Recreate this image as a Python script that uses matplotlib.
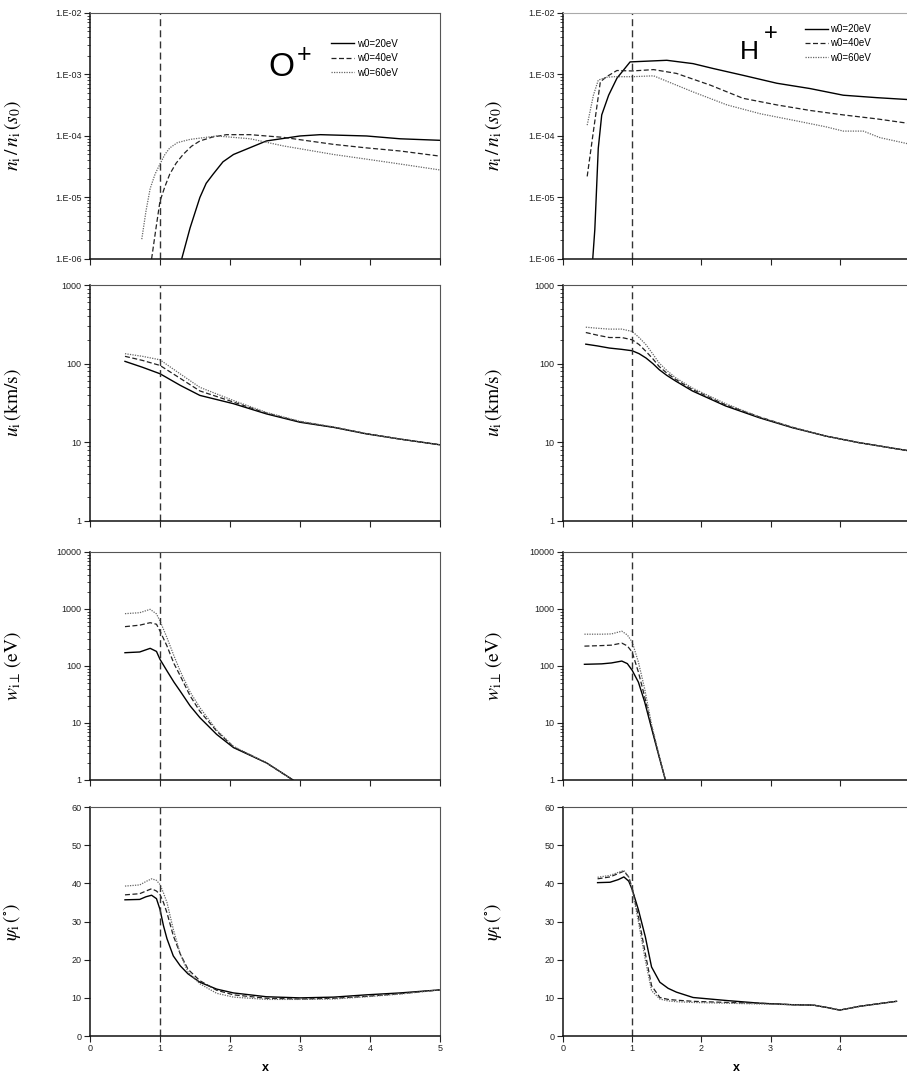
import matplotlib
matplotlib.use('Agg')
import matplotlib.pyplot as plt
from matplotlib.ticker import LogLocator, FuncFormatter, MultipleLocator, NullFormatter, FixedLocator
import numpy as np

plt.rcParams['font.family'] = ['Liberation Sans', 'DejaVu Sans']
plt.rcParams['mathtext.fontset'] = 'stix'

# ---- data ----
labels = ['w0=20eV', 'w0=40eV', 'w0=60eV']

# O+ density
o_n_x20 = [1.31, 1.43, 1.57, 1.66, 1.76, 1.9, 2.05, 2.52, 3.0, 3.29, 3.95, 4.43, 5.0]
o_n_y20 = [1e-6, 3.2e-6, 1e-5, 1.7e-5, 2.4e-5, 3.8e-5, 5e-5, 8.3e-5, 1.0e-4, 1.05e-4, 1.0e-4, 9e-5, 8.5e-5]
o_n_x40 = [0.88, 0.94, 1.0, 1.07, 1.14, 1.23, 1.33, 1.45, 1.57, 1.75, 1.95, 2.29, 2.76, 3.48, 3.95, 4.43, 5.0]
o_n_y40 = [1e-6, 3e-6, 8.7e-6, 1.5e-5, 2.4e-5, 3.6e-5, 5e-5, 6.8e-5, 8.3e-5, 9.6e-5, 1.05e-4, 1.05e-4,
           9.5e-5, 7.3e-5, 6.4e-5, 5.7e-5, 4.7e-5]
o_n_x60 = [0.74, 0.80, 0.86, 0.93, 1.0, 1.07, 1.14, 1.25, 1.43, 1.81, 2.29, 2.76, 3.48, 3.95, 4.43, 5.0]
o_n_y60 = [2.1e-6, 6e-6, 1.4e-5, 2.4e-5, 3.5e-5, 5e-5, 6.4e-5, 7.8e-5, 8.8e-5, 1.0e-4, 9e-5, 6.9e-5,
           5e-5, 4.2e-5, 3.5e-5, 2.8e-5]

# H+ density
h_n_x20 = [0.43, 0.46, 0.48, 0.51, 0.56, 0.66, 0.78, 0.97, 1.5, 1.88, 2.17, 2.6, 3.09, 3.57, 4.05, 4.53, 5.0]
h_n_y20 = [1e-6, 3e-6, 1e-5, 6.3e-5, 2.2e-4, 4.6e-4, 8.7e-4, 1.6e-3, 1.7e-3, 1.5e-3, 1.25e-3, 9.7e-4,
           7.2e-4, 5.9e-4, 4.6e-4, 4.2e-4, 3.9e-4]
h_n_x40 = [0.35, 0.44, 0.54, 0.63, 0.78, 1.0, 1.31, 1.64, 2.13, 2.6, 3.09, 3.57, 4.05, 4.53, 5.0]
h_n_y40 = [2.2e-5, 1.2e-4, 7.6e-4, 9.2e-4, 1.16e-3, 1.14e-3, 1.2e-3, 1.04e-3, 6.7e-4, 4.1e-4, 3.2e-4,
           2.6e-4, 2.2e-4, 1.9e-4, 1.6e-4]
h_n_x60 = [0.35, 0.44, 0.51, 0.63, 0.73, 1.0, 1.31, 1.64, 1.88, 2.37, 2.85, 3.33, 3.81, 4.05, 4.34, 4.58, 5.0]
h_n_y60 = [1.5e-4, 4.6e-4, 8.1e-4, 9e-4, 9.2e-4, 9.2e-4, 9.5e-4, 6.7e-4, 5.2e-4, 3.2e-4, 2.3e-4, 1.8e-4,
           1.4e-4, 1.2e-4, 1.2e-4, 9.4e-5, 7.4e-5]

# O+ velocity
o_u_x = [0.5, 0.75, 1.0, 1.29, 1.57, 2.05, 2.52, 3.0, 3.48, 3.95, 4.43, 5.0]
o_u20 = [107, 90, 74.5, 53, 39.5, 31, 23, 18, 15.5, 12.8, 11, 9.3]
o_u40 = [124, 110, 95, 65, 45, 32.5, 23.5, 18.3, 15.6, 12.9, 11.0, 9.3]
o_u60 = [134, 124, 112, 74, 50, 34, 24, 18.5, 15.7, 12.9, 11.0, 9.3]

# H+ velocity
h_u_x = [0.33, 0.5, 0.67, 0.85, 1.0, 1.1, 1.2, 1.3, 1.39, 1.5, 1.63, 1.87, 2.35, 2.84, 3.32, 3.8, 4.28, 5.0]
h_u20 = [177, 168, 158, 152, 146, 134, 118, 100, 84, 71, 60, 45, 29, 20.5, 15.3, 12, 9.9, 7.8]
h_u40 = [249, 230, 215, 215, 201, 175, 143, 115, 92, 76, 63, 47, 30, 21, 15.5, 12, 9.9, 7.8]
h_u60 = [291, 282, 275, 275, 257, 215, 174, 132, 102, 82, 66, 49, 31, 21, 15.5, 12, 9.9, 7.8]

# O+ perpendicular energy
o_w_x = [0.5, 0.71, 0.86, 0.95, 1.0, 1.1, 1.2, 1.29, 1.43, 1.57, 1.81, 2.05, 2.52, 2.9]
o_w20 = [171, 176, 204, 180, 131, 82, 52, 36, 20, 12.4, 6.3, 3.7, 2.0, 1.0]
o_w40 = [490, 520, 575, 540, 411, 224, 110, 67, 30, 16, 7.2, 3.8, 2.0, 1.0]
o_w60 = [828, 860, 986, 820, 616, 314, 150, 81, 35, 18.6, 7.5, 3.9, 2.0, 1.0]

# H+ perpendicular energy
h_w_x = [0.31, 0.56, 0.7, 0.85, 0.93, 1.0, 1.09, 1.18, 1.28, 1.38, 1.48]
h_w20 = [107, 109, 113, 122, 110, 84, 52, 23.5, 8.1, 2.8, 1.0]
h_w40 = [223, 228, 232, 252, 225, 175, 78, 29, 8.5, 2.9, 1.0]
h_w60 = [361, 361, 365, 408, 350, 263, 117, 40, 9.5, 3.0, 1.0]

# O+ pitch angle
o_p_x = [0.5, 0.71, 0.8, 0.88, 0.95, 1.0, 1.05, 1.1, 1.19, 1.29, 1.4, 1.57, 1.81, 2.05, 2.52, 3.0,
         3.48, 3.95, 4.43, 5.0]
o_p20 = [35.7, 35.8, 36.5, 36.9, 36.0, 33.2, 28.9, 25.5, 21.0, 18.4, 16.3, 14.1, 12.3, 11.3, 10.3,
         10.0, 10.2, 10.8, 11.3, 12.1]
o_p40 = [37.0, 37.3, 38.0, 38.6, 38.0, 37.1, 35.0, 32.3, 26.3, 21.5, 17.5, 14.5, 12.0, 10.8, 9.9,
         9.7, 9.9, 10.4, 11.1, 12.1]
o_p60 = [39.3, 39.6, 40.5, 41.2, 40.8, 39.7, 37.5, 35.0, 28.0, 21.5, 16.8, 13.7, 11.2, 10.2, 9.6,
         9.6, 9.7, 10.3, 11.0, 12.1]

# H+ pitch angle
h_p_x = [0.5, 0.68, 0.8, 0.88, 0.95, 1.0, 1.09, 1.19, 1.28, 1.4, 1.52, 1.64, 1.88, 2.37, 2.85, 3.33,
         3.62, 3.81, 4.0, 4.29, 4.82]
h_p20 = [40.2, 40.3, 41.0, 41.7, 40.6, 38.4, 33.1, 26.0, 18.1, 14.1, 12.5, 11.5, 10.1, 9.3, 8.6, 8.2,
         8.1, 7.5, 6.8, 7.8, 9.1]
h_p40 = [41.2, 41.7, 42.6, 43.2, 41.7, 38.8, 31.3, 21.6, 13.2, 10.1, 9.6, 9.4, 9.1, 8.8, 8.6, 8.2,
         8.1, 7.5, 6.8, 7.8, 9.1]
h_p60 = [41.6, 42.1, 42.9, 43.4, 41.7, 38.4, 30.0, 19.9, 11.9, 9.7, 9.2, 9.0, 8.8, 8.6, 8.4, 8.2,
         8.1, 7.5, 6.8, 7.8, 9.1]

# ---- styles ----
styles = [dict(color='#000000', lw=1.0, ls='-'),
          dict(color='#222222', lw=0.9, ls=(0, (4, 2))),
          dict(color='#666666', lw=0.9, ls=(0, (1, 1)))]

fig = plt.figure(figsize=(9.07, 10.8), dpi=100)

rows = [(0.7602, 0.2278), (0.5176, 0.2185), (0.2778, 0.2111), (0.0407, 0.2120)]
cols = [(0.0992, 0.3859), (0.6207, 0.3815)]

ylabels = [r'$n_{\rm i}\,/\,n_{\rm i}\,(s_{0})$', r'$u_{\rm i}\,(\mathrm{km/s})$',
           r'$w_{\rm i\perp}\,(\mathrm{eV})$', r'$\psi_{\rm i}\,(^{\circ})$']
ylims = [(1e-6, 1e-2), (1, 1000), (1, 10000), (0, 60)]

panel_data = {
    (0, 0): [(o_n_x20, o_n_y20), (o_n_x40, o_n_y40), (o_n_x60, o_n_y60)],
    (0, 1): [(h_n_x20, h_n_y20), (h_n_x40, h_n_y40), (h_n_x60, h_n_y60)],
    (1, 0): [(o_u_x, o_u20), (o_u_x, o_u40), (o_u_x, o_u60)],
    (1, 1): [(h_u_x, h_u20), (h_u_x, h_u40), (h_u_x, h_u60)],
    (2, 0): [(o_w_x, o_w20), (o_w_x, o_w40), (o_w_x, o_w60)],
    (2, 1): [(h_w_x, h_w20), (h_w_x, h_w40), (h_w_x, h_w60)],
    (3, 0): [(o_p_x, o_p20), (o_p_x, o_p40), (o_p_x, o_p60)],
    (3, 1): [(h_p_x, h_p20), (h_p_x, h_p40), (h_p_x, h_p60)],
}


def sci_fmt(v, pos):
    e = int(round(np.log10(v)))
    return f"1.E{e:03d}"


for r, (bot, h) in enumerate(rows):
    for c, (left, w) in enumerate(cols):
        ax = fig.add_axes([left, bot, w, h])
        for (xs, ys), st, lab in zip(panel_data[(r, c)], styles, labels):
            ax.plot(xs, ys, label=lab, **st)
        ax.axvline(1.0, color='#333333', lw=1.0, ls=(0, (5, 3)))

        ax.set_xlim(0, 5)
        ax.set_ylim(*ylims[r])
        if r < 3:
            ax.set_yscale('log')
            ax.yaxis.set_major_locator(LogLocator(base=10, numticks=10))
            ax.yaxis.set_minor_locator(LogLocator(base=10, subs=np.arange(2, 10), numticks=20))
            ax.yaxis.set_minor_formatter(NullFormatter())
            if r == 0:
                ax.yaxis.set_major_formatter(FuncFormatter(sci_fmt))
            else:
                ax.yaxis.set_major_formatter(FuncFormatter(lambda v, p: f"{v:g}"))
        else:
            ax.yaxis.set_major_locator(MultipleLocator(10))
        # the right column is cropped just before x = 5 in the original
        ax.xaxis.set_major_locator(FixedLocator([0, 1, 2, 3, 4, 5] if c == 0 else [0, 1, 2, 3, 4]))
        if r < 3:
            ax.tick_params(axis='x', labelbottom=False)
        else:
            ax.set_xlabel('x', fontsize=9, fontweight='bold')
            ax.xaxis.set_label_coords(0.5, -0.115)

        ax.tick_params(axis='both', which='major', direction='out', length=4, width=0.8,
                       labelsize=6.5, colors='#222222', pad=2)
        ax.tick_params(axis='y', which='minor', direction='out', length=2, width=0.5)
        ax.tick_params(top=False, right=False)

        for s in ('left', 'bottom'):
            ax.spines[s].set_color('#111111')
            ax.spines[s].set_linewidth(1.1)
        for s in ('top', 'right'):
            ax.spines[s].set_color('#555555')
            ax.spines[s].set_linewidth(0.8)
        if (r, c) == (0, 1):
            ax.spines['top'].set_color('#aaaaaa')

        ax.set_ylabel(ylabels[r], fontsize=14)
        ax.yaxis.set_label_coords(-0.19 if c == 0 else -0.17, 0.5)

        if r == 0:
            if c == 0:
                ax.text(0.546, 0.78, 'O', transform=ax.transAxes, fontsize=24,
                        ha='center', va='center')
                ax.text(0.613, 0.83, '+', transform=ax.transAxes, fontsize=18,
                        ha='center', va='center')
                anchor = (0.69, 0.895)
            else:
                ax.text(0.54, 0.84, 'H', transform=ax.transAxes, fontsize=19,
                        ha='center', va='center')
                ax.text(0.60, 0.915, '+', transform=ax.transAxes, fontsize=17,
                        ha='center', va='center')
                anchor = (0.70, 0.955)
            ax.legend(loc='upper left', bbox_to_anchor=anchor, frameon=False, fontsize=7,
                      handlelength=2.3, handletextpad=0.3, labelspacing=0.45, borderpad=0,
                      borderaxespad=0)

fig.savefig('out.png', dpi=100)
